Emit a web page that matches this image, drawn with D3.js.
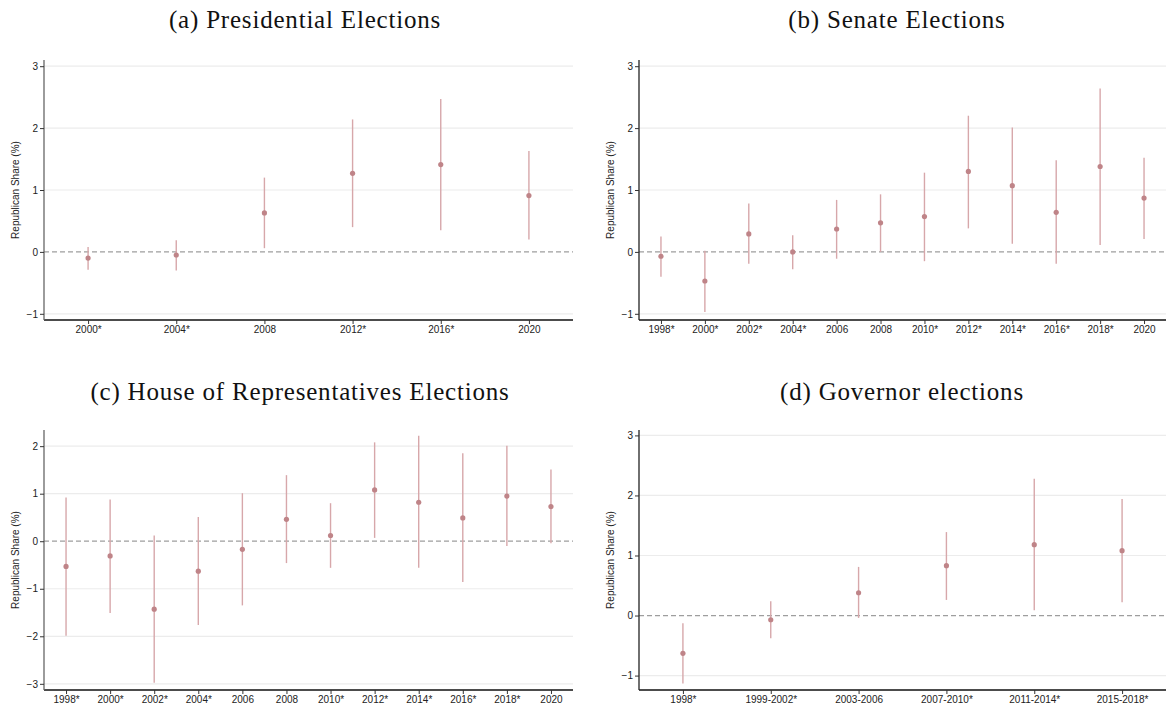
<!DOCTYPE html>
<html>
<head>
<meta charset="utf-8">
<script src="https://cdn.jsdelivr.net/npm/d3@7"></script>
<style>
  body { margin: 0; background: #fff; }
  svg text { font-family: "Liberation Sans", Arial, sans-serif; }
  .title { font-family: "Liberation Serif", "DejaVu Serif", serif !important; }
</style>
</head>
<body>
<div id="chart"></div>
<script>
// event-study style estimates with 95% CI, four election types

// (a) presidential
const presLabels = ["2000*", "2004*", "2008", "2012*", "2016*", "2020"];
const presEst = [-0.10, -0.05, 0.63, 1.27, 1.41, 0.91];
const presLo = [-0.29, -0.30, 0.06, 0.40, 0.35, 0.20];
const presHi = [0.08, 0.19, 1.20, 2.14, 2.47, 1.63];

// (b) senate
const senLabels = ["1998*", "2000*", "2002*", "2004*", "2006", "2008", "2010*", "2012*", "2014*", "2016*", "2018*", "2020"];
const senEst = [-0.07, -0.47, 0.29, 0.00, 0.37, 0.47, 0.57, 1.30, 1.07, 0.64, 1.38, 0.87];
const senLo = [-0.40, -0.97, -0.19, -0.28, -0.11, 0.00, -0.15, 0.38, 0.13, -0.19, 0.11, 0.21];
const senHi = [0.25, 0.02, 0.78, 0.27, 0.84, 0.93, 1.28, 2.20, 2.01, 1.48, 2.64, 1.52];

// (c) house
const houseLabels = ["1998*", "2000*", "2002*", "2004*", "2006", "2008", "2010*", "2012*", "2014*", "2016*", "2018*", "2020"];
const houseEst = [-0.53, -0.31, -1.43, -0.63, -0.17, 0.46, 0.12, 1.08, 0.82, 0.49, 0.95, 0.73];
const houseLo = [-1.99, -1.51, -2.98, -1.76, -1.35, -0.46, -0.56, 0.07, -0.56, -0.86, -0.10, -0.04];
const houseHi = [0.92, 0.88, 0.12, 0.51, 1.01, 1.39, 0.80, 2.08, 2.22, 1.85, 2.01, 1.51];

// (d) governor
const govLabels = ["1998*", "1999-2002*", "2003-2006", "2007-2010*", "2011-2014*", "2015-2018*"];
const govEst = [-0.63, -0.07, 0.38, 0.83, 1.18, 1.08];
const govLo = [-1.13, -0.38, -0.04, 0.26, 0.09, 0.22];
const govHi = [-0.13, 0.24, 0.81, 1.39, 2.28, 1.94];

const yTicksA = [-1, 0, 1, 2, 3];
const yTicksC = [-3, -2, -1, 0, 1, 2];

const W = 1169, H = 708;
const dotCol = "#bf8488";
const ciCol = "#d7a7aa";

const svg = d3.select("#chart").append("svg")
    .attr("width", W)
    .attr("height", H);

function panel(opt) {
    const g = svg.append("g");
    const x = d3.scalePoint()
        .domain(opt.labels)
        .range([opt.x0, opt.x1])
        .padding(0.5);
    const y = d3.scaleLinear()
        .domain(opt.ydom)
        .range([opt.y1, opt.y0]);

    // title
    g.append("text")
        .attr("class", "title")
        .attr("x", opt.tx)
        .attr("y", opt.ty)
        .attr("text-anchor", "middle")
        .style("font-size", "25px")
        .style("letter-spacing", "0.8px")
        .attr("fill", "#111")
        .text(opt.title);

    // gridlines
    g.append("g").selectAll("line")
        .data(opt.yticks.filter(d => d !== 0))
        .join("line")
        .attr("x1", opt.x0).attr("x2", opt.x1)
        .attr("y1", d => y(d)).attr("y2", d => y(d))
        .attr("stroke", "#ececec")
        .attr("stroke-width", 1.2);

    // zero reference
    g.append("line")
        .attr("x1", opt.x0).attr("x2", opt.x1)
        .attr("y1", y(0)).attr("y2", y(0))
        .attr("stroke", "#9e9e9e")
        .attr("stroke-width", 1.3)
        .attr("stroke-dasharray", "5,3");

    // axes
    const ax = g.append("g")
        .attr("transform", "translate(0," + opt.y1 + ")")
        .call(d3.axisBottom(x).tickSize(4).tickSizeOuter(0));
    const ay = g.append("g")
        .attr("transform", "translate(" + opt.x0 + ",0)")
        .call(d3.axisLeft(y).tickValues(opt.yticks).tickSize(4).tickSizeOuter(0).tickFormat(d3.format("d")));
    [ax, ay].forEach(a => {
        a.selectAll("text").style("font-size", "10px").attr("fill", "#222");
        a.selectAll("line").attr("stroke", "#333");
        a.select(".domain").attr("stroke", "#333").attr("stroke-width", 1.3);
    });
    ax.selectAll("text").attr("dy", "0.71em").attr("y", 6);
    ay.selectAll("text").attr("x", -6);
    ay.select(".domain").attr("d", "M0," + opt.y1 + "V" + opt.y0).attr("stroke", opt.ycol);
    ax.select(".domain").attr("d", "M" + opt.x0 + ",0H" + opt.x1).attr("stroke", "#111");

    g.append("text")
        .attr("transform", "translate(" + (opt.x0 - 25) + "," + ((opt.y0 + opt.y1) / 2) + ")rotate(-90)")
        .attr("text-anchor", "middle")
        .style("font-size", "10px")
        .attr("fill", "#222")
        .text("Republican Share (%)");

    const rows = opt.labels.map((l, i) => ({ l: l, est: opt.est[i], lo: opt.lo[i], hi: opt.hi[i] }));

    g.append("g").selectAll("line")
        .data(rows)
        .join("line")
        .attr("x1", d => x(d.l)).attr("x2", d => x(d.l))
        .attr("y1", d => y(d.lo)).attr("y2", d => y(d.hi))
        .attr("stroke", ciCol)
        .attr("stroke-width", 1.4);

    g.append("g").selectAll("circle")
        .data(rows)
        .join("circle")
        .attr("cx", d => x(d.l))
        .attr("cy", d => y(d.est))
        .attr("r", 2.6)
        .attr("fill", dotCol);
}

panel({ title: "(a) Presidential Elections", tx: 305, ty: 28, ycol: "#666",
    labels: presLabels, est: presEst, lo: presLo, hi: presHi,
    x0: 44, x1: 573, y0: 60, y1: 320, ydom: [-1.1, 3.1], yticks: yTicksA });
panel({ title: "(b) Senate Elections", tx: 897, ty: 28, ycol: "#222",
    labels: senLabels, est: senEst, lo: senLo, hi: senHi,
    x0: 639, x1: 1166, y0: 60, y1: 320, ydom: [-1.1, 3.1], yticks: yTicksA });
panel({ title: "(c) House of Representatives Elections", tx: 300, ty: 400, ycol: "#666",
    labels: houseLabels, est: houseEst, lo: houseLo, hi: houseHi,
    x0: 44, x1: 573, y0: 430, y1: 690, ydom: [-3.13, 2.34], yticks: yTicksC });
panel({ title: "(d) Governor elections", tx: 902, ty: 400, ycol: "#222",
    labels: govLabels, est: govEst, lo: govLo, hi: govHi,
    x0: 639, x1: 1166, y0: 430, y1: 690, ydom: [-1.24, 3.09], yticks: yTicksA });
</script>
</body>
</html>
